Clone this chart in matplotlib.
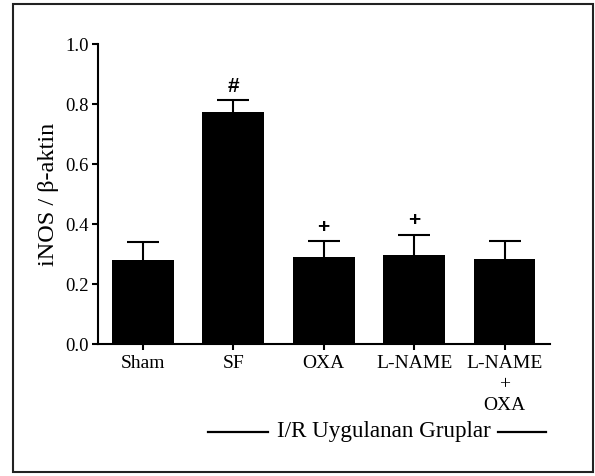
import matplotlib
matplotlib.use('Agg')
import matplotlib.pyplot as plt
from matplotlib.patches import Rectangle
from matplotlib.lines import Line2D

gruplar = ['Sham', 'SF', 'OXA', 'L-NAME', 'L-NAME\n+\nOXA']
degerler = [0.281, 0.775, 0.290, 0.299, 0.283]
hatalar = [0.061, 0.039, 0.054, 0.066, 0.061]
isaretler = ['', '#', '+', '+', '']

plt.rcParams['font.family'] = ['Liberation Serif', 'DejaVu Serif']

fig = plt.figure(figsize=(5.95, 4.76), dpi=100)
ax = fig.add_axes([0.164, 0.2767, 0.76, 0.6303])

x = range(len(gruplar))
ax.bar(x, degerler, width=0.683, color='black', zorder=2)
eb = ax.errorbar(x, degerler, yerr=[[0] * len(hatalar), hatalar], fmt='none',
                 ecolor='black', elinewidth=1.5, capsize=11.2, capthick=1.5, zorder=1)
eb[1][0].set_visible(False)  # alt kapak gizli

for i, (d, h, s) in enumerate(zip(degerler, hatalar, isaretler)):
    if s:
        ax.text(i, d + h + 0.015, s, ha='center', va='bottom', fontsize=15,
                fontweight='bold', family=['Liberation Sans', 'DejaVu Sans'])

ax.set_xlim(-0.5, 4.5)
ax.set_ylim(0, 1.0)
ax.set_yticks([0.0, 0.2, 0.4, 0.6, 0.8, 1.0])
ax.set_yticklabels(['0.0', '0.2', '0.4', '0.6', '0.8', '1.0'], fontsize=13.5)
ax.set_xticks(list(x))
ax.set_xticklabels(gruplar, fontsize=14, linespacing=1.3)
ax.set_ylabel('iNOS / β-aktin', fontsize=17.5, labelpad=4)

ax.spines['top'].set_visible(False)
ax.spines['right'].set_visible(False)
ax.spines['left'].set_linewidth(1.5)
ax.spines['bottom'].set_linewidth(1.5)
ax.tick_params(axis='y', direction='out', length=4.5, width=1.5, pad=2)
ax.tick_params(axis='x', direction='out', length=4.5, width=1.5, pad=3.5)

# grup etiketi ve cizgiler
fig.text(384 / 595, 1 - 432 / 476, 'I/R Uygulanan Gruplar', ha='center', va='center', fontsize=16.7)
fig.add_artist(Line2D([208 / 595, 268 / 595], [1 - 432 / 476] * 2, color='black', lw=1.6))
fig.add_artist(Line2D([498 / 595, 546 / 595], [1 - 432 / 476] * 2, color='black', lw=1.6))

# dis cerceve
fig.add_artist(Rectangle((13 / 595, 1 - 472 / 476), 580 / 595, 468 / 476, fill=False,
                         edgecolor='#222222', lw=1.5, transform=fig.transFigure))

fig.savefig('out.png', dpi=100)
